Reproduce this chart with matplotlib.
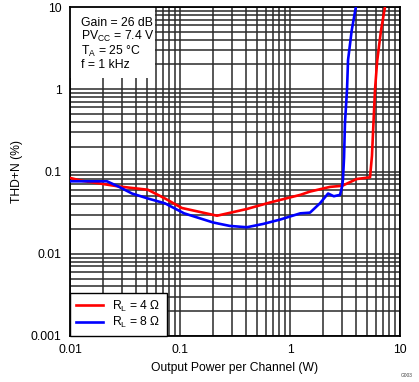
import matplotlib
matplotlib.use("Agg")
import matplotlib.pyplot as plt
from matplotlib.patches import Rectangle
from matplotlib.ticker import LogLocator, NullFormatter, FixedLocator, FixedFormatter

plt.rcParams['font.family'] = ['Liberation Sans', 'DejaVu Sans']
plt.rcParams['mathtext.fontset'] = 'custom'
plt.rcParams['mathtext.rm'] = 'Liberation Sans'
plt.rcParams['mathtext.it'] = 'Liberation Sans'

# Data (output power W, THD+N %)
p_4ohm = [0.0102, 0.0129, 0.018, 0.0273, 0.051, 0.073, 0.104, 0.217, 0.405, 0.658,
          1.24, 1.52, 2.31, 2.98, 4.04, 5.34, 5.56, 5.7, 5.93, 6.2, 6.72, 7.3]
thd_4ohm = [0.083, 0.077, 0.072, 0.066, 0.060, 0.047, 0.036, 0.029, 0.035, 0.042,
            0.052, 0.057, 0.065, 0.067, 0.081, 0.085, 0.155, 0.32, 1.0, 2.2, 5.2, 10.0]

p_8ohm = [0.0102, 0.0217, 0.0273, 0.0366, 0.051, 0.073, 0.109, 0.20, 0.283, 0.405,
          0.567, 0.81, 1.24, 1.52, 1.87, 2.22, 2.5, 2.85, 2.97, 3.03, 3.1, 3.16,
          3.30, 3.37, 3.64, 3.97]
thd_8ohm = [0.076, 0.076, 0.066, 0.054, 0.047, 0.041, 0.031, 0.024, 0.0218, 0.021,
            0.023, 0.026, 0.031, 0.0316, 0.041, 0.054, 0.050, 0.052, 0.065, 0.08, 0.148,
            0.39, 1.0, 2.26, 5.2, 10.0]

x_ticks = [0.01, 0.1, 1, 10]
x_labels = ["0.01", "0.1", "1", "10"]
y_ticks = [0.001, 0.01, 0.1, 1, 10]
y_labels = ["0.001", "0.01", "0.1", "1", "10"]

fig = plt.figure(figsize=(4.19, 3.82), dpi=100)
ax = fig.add_axes([70/419, 46/382, 330/419, 329/382])

ax.set_xscale('log')
ax.set_yscale('log')
ax.set_xlim(0.01, 10)
ax.set_ylim(0.001, 10)

ax.xaxis.set_major_locator(FixedLocator(x_ticks))
ax.xaxis.set_major_formatter(FixedFormatter(x_labels))
ax.yaxis.set_major_locator(FixedLocator(y_ticks))
ax.yaxis.set_major_formatter(FixedFormatter(y_labels))
ax.xaxis.set_minor_locator(LogLocator(base=10, subs=range(2, 10)))
ax.yaxis.set_minor_locator(LogLocator(base=10, subs=range(2, 10)))
ax.xaxis.set_minor_formatter(NullFormatter())
ax.yaxis.set_minor_formatter(NullFormatter())
ax.tick_params(which='both', length=0, labelsize=8.7, pad=6, colors='black')

ax.grid(True, which='both', color='#2a2a2a', linewidth=1.1)
ax.set_axisbelow(True)
for s in ax.spines.values():
    s.set_linewidth(1.3)
    s.set_color('black')

l1, = ax.plot(p_4ohm, thd_4ohm, color='#ff0000', linewidth=1.9, label=r'R$_\mathregular{L}$ = 4 Ω', zorder=3)
l2, = ax.plot(p_8ohm, thd_8ohm, color='#0000ff', linewidth=1.9, label=r'R$_\mathregular{L}$ = 8 Ω', zorder=3)

ax.set_xlabel('Output Power per Channel (W)', fontsize=8.7, labelpad=4)
ax.set_ylabel('THD+N (%)', fontsize=8.7, labelpad=6)

leg = ax.legend(loc='lower left', fontsize=8.7, frameon=True, fancybox=False,
                borderaxespad=0, handlelength=2.2, handletextpad=0.8,
                borderpad=0.5, labelspacing=0.1)
leg.get_frame().set_edgecolor('black')
leg.get_frame().set_linewidth(1.0)
leg.get_frame().set_facecolor('white')
leg.get_frame().set_alpha(1)

# white background box for conditions
ax.add_patch(Rectangle((0, 1 - 71/329), 85/330, 71/329, transform=ax.transAxes,
                       facecolor='white', edgecolor='none', zorder=2))
txt = ("Gain = 26 dB\n"
       r"PV$_\mathregular{CC}$ = 7.4 V" "\n"
       r"T$_\mathregular{A}$ = 25 °C" "\n"
       "f = 1 kHz")
ax.text(11/330, 1 - 10/329, txt, transform=ax.transAxes, fontsize=8.8, va='top', ha='left',
        linespacing=1.0, zorder=4)

fig.text(0.985, 0.01, 'G003', fontsize=3.5, ha='right', va='bottom', color='#444444')

fig.savefig('out.png', dpi=100)
